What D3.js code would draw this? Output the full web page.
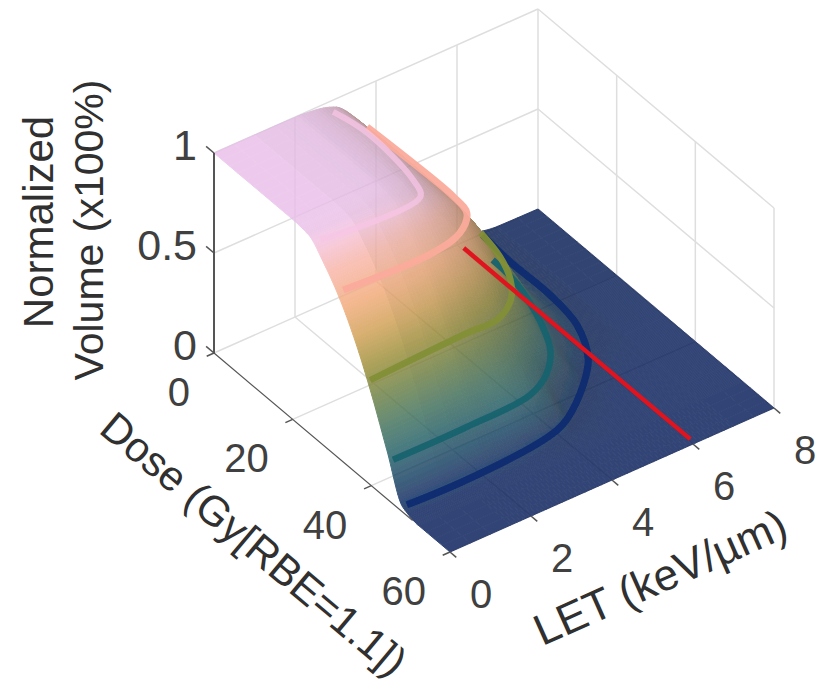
<!DOCTYPE html>
<html>
<head>
<meta charset="utf-8">
<script src="https://cdn.jsdelivr.net/npm/d3@7"></script>
<style>
  html, body { margin: 0; background: #fff; }
  text { font-family: "Liberation Sans", Arial, sans-serif; fill: #404040; }
</style>
</head>
<body>
<svg id="chart" width="820" height="688"></svg>
<script>
// values
const doses = [0, 10, 20, 24, 28, 32, 36, 40, 44, 48, 52, 60];
const lets = [0, 1, 2, 2.5, 3, 3.5, 4, 4.5, 5, 5.5, 6, 6.5, 7, 8];
// one row per dose, one column per LET
const volume = [
  [1, 1, .998, .99, .96, .86, .72, .57, .39, .22, .09, .02, .003, 0],
  [1, 1, .998, .99, .965, .865, .725, .57, .39, .215, .085, .02, .003, 0],
  [1, 1, .998, .988, .95, .86, .72, .56, .38, .205, .08, .02, .003, 0],
  [.99, .99, .985, .972, .93, .85, .71, .54, .365, .19, .075, .018, .003, 0],
  [.91, .91, .90, .885, .85, .78, .65, .47, .29, .13, .05, .012, .002, 0],
  [.8, .8, .79, .775, .74, .67, .56, .39, .21, .09, .028, .006, 0, 0],
  [.65, .65, .64, .62, .58, .52, .41, .27, .14, .03, .006, .001, 0, 0],
  [.46, .46, .455, .44, .41, .35, .25, .12, .04, .005, 0, 0, 0, 0],
  [.24, .24, .235, .23, .225, .205, .14, .025, .005, 0, 0, 0, 0, 0],
  [.025, .025, .025, .024, .022, .017, .008, .003, 0, 0, 0, 0, 0, 0],
  [0, 0, 0, 0, 0, 0, 0, 0, 0, 0, 0, 0, 0, 0],
  [0, 0, 0, 0, 0, 0, 0, 0, 0, 0, 0, 0, 0, 0]
];

// iso-volume lines, visible parts only
const navyLevel = .02;
const navyDose = [47.7, 48, 47.1, 46.1, 44.8, 39.5, 34.8, 27.1, 18.8, 8.8, 1.1];
const navyLet = [.13, 1.5, 3.4, 4, 4.37, 5.28, 5.86, 6.33, 6.47, 6.46, 6.53];
const tealLevel = .2;
const tealDose = [44.7, 44.7, 43.9, 41, 36.8, 31.6, 25.8, 19.7, 14];
const tealLet = [.08, 1.9, 3.55, 4.24, 4.73, 5.05, 5.3, 5.48, 5.52];
const oliveLevel = .5;
const oliveDose = [38.8, 38, 38, 35.3, 31.3, 25.9, 19.4];
const oliveLet = [.09, 2.56, 3.3, 3.9, 4.28, 4.55, 4.7];
const salmonLevel = .8;
const salmonDose = [30.5, 31, 29.5, 26.2, 21.8, 8.4, .4];
const salmonLet = [.23, 2.4, 3.2, 3.7, 3.8, 3.78, 3.74];
const pinkLevel = .98;
const pinkDose = [25.7, 26, 22, 8.7, 1.56];
const pinkLet = [.13, 2.57, 2.78, 2.94, 2.79];

const redLet = 6.05;
const redDose = [1.2, 58.8];

const doseTicks = [0, 20, 40, 60];
const letTicks = [0, 2, 4, 6, 8];
const volTicks = [0, .5, 1];
const doseGrid = [20, 40, 60];
const letGrid = [2, 4, 6, 8];

const colorStops = [0, .11, .22, .33, .44, .55, .66, .77, .88, 1];
const colorValues = ['#011959', '#0f3b5e', '#1c5a62', '#3d6d55', '#667b3d', '#968a30', '#cc9b4c', '#f3a874', '#feb7a8', '#faccfa'];

const svg = d3.select('#chart');

const defs = svg.append('defs');
defs.append('filter').attr('id', 'soft').append('feGaussianBlur').attr('stdDeviation', .7);

// the 3d box is an oblique projection, each data axis adds a screen offset
const doseX = d3.scaleLinear().domain([0, 60]).range([0, 236]);
const doseY = d3.scaleLinear().domain([0, 60]).range([0, 199]);
const letX = d3.scaleLinear().domain([0, 8]).range([0, 324]);
const letY = d3.scaleLinear().domain([0, 8]).range([0, -144]);
const volY = d3.scaleLinear().domain([0, 1]).range([0, -200]);
const color = d3.scaleLinear().domain(colorStops).range(colorValues);

const project = (d, l, v) => [
  214 + doseX(d) + letX(l),
  353 + doseY(d) + letY(l) + volY(v)
];

const segment = (a, b) => 'M' + project(...a) + 'L' + project(...b);

// monotone cubic through table values, only to draw the table smoothly
function monotone(xs, ys) {
  const n = xs.length;
  const sec = d3.range(n - 1).map(i => (ys[i + 1] - ys[i]) / (xs[i + 1] - xs[i]));
  const tan = xs.map((x, i) => {
    if (i === 0) return sec[0];
    if (i === n - 1) return sec[n - 2];
    if (sec[i - 1] * sec[i] <= 0) return 0;
    return 2 * sec[i - 1] * sec[i] / (sec[i - 1] + sec[i]);
  });
  const bis = d3.bisector(x => x).right;
  return x => {
    const i = Math.min(Math.max(bis(xs, x) - 1, 0), n - 2);
    const h = xs[i + 1] - xs[i], t = (x - xs[i]) / h;
    return (2*t*t*t - 3*t*t + 1) * ys[i] + (t*t*t - 2*t*t + t) * h * tan[i]
      + (-2*t*t*t + 3*t*t) * ys[i + 1] + (t*t*t - t*t) * h * tan[i + 1];
  };
}

const doseCols = lets.map((l, j) => monotone(doses, volume.map(r => r[j])));
const fineDose = [...d3.range(0, 20, 2), ...d3.range(20, 52, .3), ...d3.range(52, 60.01, 2)];
const fineLet = [...d3.range(0, 1.5, .5), ...d3.range(1.5, 7, .08), 7, 7.5, 8];
const fine = fineDose.map(d => {
  const across = monotone(lets, doseCols.map(f => f(d)));
  return fineLet.map(l => Math.max(0, Math.min(1, across(l))));
});

// walls and floor, drawn below the surface
const grid = svg.append('g').attr('fill', 'none').attr('stroke', '#dedede').attr('stroke-width', 1.5);
const gridLines = [];
letGrid.forEach(l => {
  gridLines.push([[0, l, 0], [0, l, 1]]);
  gridLines.push([[0, l, 0], [60, l, 0]]);
});
doseGrid.forEach(d => {
  gridLines.push([[d, 8, 0], [d, 8, 1]]);
  gridLines.push([[d, 0, 0], [d, 8, 0]]);
});
volTicks.forEach(v => {
  gridLines.push([[0, 0, v], [0, 8, v]]);
  gridLines.push([[0, 8, v], [60, 8, v]]);
});
grid.selectAll('path').data(gridLines).enter().append('path').attr('d', p => segment(p[0], p[1]));

// surface quads, back to front
const cells = [];
for (let j = fineLet.length - 2; j >= 0; j--) {
  for (let i = 0; i < fineDose.length - 1; i++) {
    const v = (fine[i][j] + fine[i + 1][j] + fine[i][j + 1] + fine[i + 1][j + 1]) / 4;
    const dd = fineDose[i + 1] - fineDose[i], dl = fineLet[j + 1] - fineLet[j];
    const slopeD = Math.abs((fine[i + 1][j] + fine[i + 1][j + 1] - fine[i][j] - fine[i][j + 1]) / 2 / dd);
    const slopeL = Math.abs((fine[i][j + 1] + fine[i + 1][j + 1] - fine[i][j] - fine[i + 1][j]) / 2 / dl);
    const shade = Math.max(.5, Math.min(1, .93 + 1.75 * slopeD) - .55 * Math.sqrt(slopeL));
    const c = d3.rgb(color(v));
    const fill = d3.rgb(c.r * shade, c.g * shade, c.b * shade).formatHex();
    const p = [
      project(fineDose[i], fineLet[j], fine[i][j]),
      project(fineDose[i + 1], fineLet[j], fine[i + 1][j]),
      project(fineDose[i + 1], fineLet[j + 1], fine[i + 1][j + 1]),
      project(fineDose[i], fineLet[j + 1], fine[i][j + 1])
    ];
    cells.push({p, fill});
  }
}
svg.append('g').attr('opacity', .8).attr('filter', 'url(#soft)')
  .selectAll('path').data(cells).enter().append('path')
  .attr('d', c => 'M' + c.p.join('L') + 'Z')
  .attr('fill', c => c.fill)
  .attr('stroke', c => c.fill)
  .attr('stroke-width', 1);

// iso lines on the surface
const isoLine = d3.line().curve(d3.curveCatmullRom.alpha(.5));
const iso = [
  {level: navyLevel, ds: navyDose, ls: navyLet, stroke: '#0a2a70', w: 7, o: .95},
  {level: tealLevel, ds: tealDose, ls: tealLet, stroke: '#17626f', w: 6.5, o: .95},
  {level: oliveLevel, ds: oliveDose, ls: oliveLet, stroke: '#838f35', w: 6.5, o: .95},
  {level: salmonLevel, ds: salmonDose, ls: salmonLet, stroke: '#fbab9b', w: 7, o: .95},
  {level: pinkLevel, ds: pinkDose, ls: pinkLet, stroke: '#f7c6e6', w: 6, o: .75}
];
svg.append('g').attr('fill', 'none').attr('filter', 'url(#soft)')
  .selectAll('path').data(iso).enter().append('path')
  .attr('d', s => isoLine(s.ds.map((d, i) => project(d, s.ls[i], s.level))))
  .attr('stroke', s => s.stroke)
  .attr('stroke-width', s => s.w)
  .attr('opacity', s => s.o);

svg.append('path')
  .attr('d', segment([redDose[0], redLet, 0], [redDose[1], redLet, 0]))
  .attr('stroke', '#e0141e')
  .attr('stroke-width', 4.5);

// axes
const axis = svg.append('g').attr('fill', 'none').attr('stroke', '#555');
axis.append('path').attr('d', segment([0, 0, 0], [0, 0, 1])).attr('stroke-width', 2);
axis.append('path').attr('d', segment([0, 0, 0], [50.5, 0, 0])).attr('stroke-width', 1.2);
volTicks.forEach(v => axis.append('path').attr('d', segment([-2, 0, v], [0, 0, v])).attr('stroke-width', 1.5));
doseTicks.forEach(d => axis.append('path').attr('d', segment([d, -.18, 0], [d, 0, 0])).attr('stroke-width', 1.5));
letTicks.forEach(l => axis.append('path').attr('d', segment([60, l, 0], [61.6, l, 0])).attr('stroke-width', 1.5));

// tick labels
const labels = svg.append('g').attr('dominant-baseline', 'central');
labels.selectAll('.vol').data(volTicks).enter().append('text')
  .attr('font-size', 43)
  .attr('x', v => project(0, 0, v)[0] - 17)
  .attr('y', v => project(0, 0, v)[1] - 8)
  .attr('text-anchor', 'end')
  .text(v => v);
labels.selectAll('.dose').data(doseTicks).enter().append('text')
  .attr('font-size', 40)
  .attr('x', d => project(d, 0, 0)[0] - 24)
  .attr('y', d => project(d, 0, 0)[1] + 39)
  .attr('text-anchor', 'end')
  .text(d => d);
labels.selectAll('.let').data(letTicks).enter().append('text')
  .attr('font-size', 40)
  .attr('x', l => project(60, l, 0)[0] + 31)
  .attr('y', l => project(60, l, 0)[1] + 42)
  .attr('text-anchor', 'middle')
  .text(l => l);

// axis titles
const titles = [
  {t: 'Normalized', x: 38, y: 222, r: -90, s: 42},
  {t: 'Volume (x100%)', x: 89, y: 230, r: -90, s: 41},
  {t: 'Dose (Gy[RBE=1.1])', x: 254, y: 544, r: 40, s: 42},
  {t: 'LET (keV/µm)', x: 660, y: 577, r: -24, s: 44}
];
svg.append('g').selectAll('text').data(titles).enter().append('text')
  .attr('transform', d => 'translate(' + d.x + ',' + d.y + ') rotate(' + d.r + ')')
  .attr('text-anchor', 'middle')
  .attr('dominant-baseline', 'central')
  .attr('font-size', d => d.s)
  .style('fill', '#303030')
  .text(d => d.t);
</script>
</body>
</html>
